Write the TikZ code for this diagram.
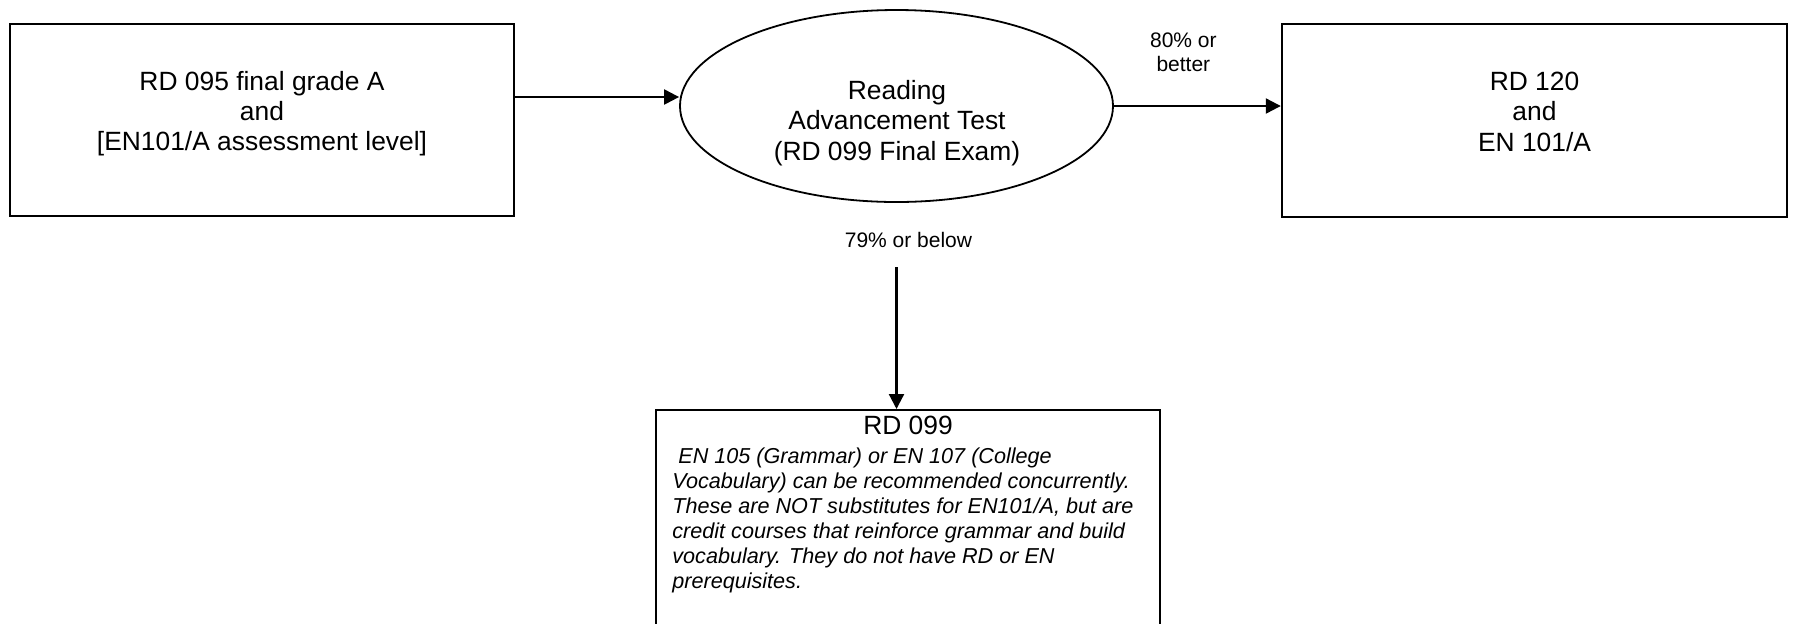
\documentclass[tikz,border=0pt]{standalone}
\usepackage{fontspec}
\setmainfont{Liberation Sans}
\usetikzlibrary{shapes.geometric,arrows.meta,positioning}

\tikzset{
  box/.style={draw, line width=1.2pt, minimum width=252pt, minimum height=96pt, inner sep=0pt, align=center, font=\fontsize{13.2}{15.2}\selectfont, execute at end node={\rule[-9pt]{0pt}{0pt}}},
  oval/.style={draw, ellipse, line width=0.9pt, minimum width=216.5pt, minimum height=96pt, inner sep=0pt},
  lbl/.style={inner sep=0pt, align=center, font=\fontsize{10.5}{12.1}\selectfont},
  note/.style={inner sep=0pt, align=left, font=\fontsize{10.8}{12.5}\selectfont\itshape},
  flow/.style={-{Triangle[length=7.5pt, width=7.5pt]}, line width=1.1pt}
}

\begin{document}
\begin{tikzpicture}[x=0.5pt, y=-0.5pt]
  \fill[white] (0,0) rectangle (1794,623);
  \useasboundingbox (0,0) rectangle (1794,623);
  \clip (0,0) rectangle (1794,623);
  \node[box] (grade) at (262,120) {RD 095 final grade A\\and\\{[EN101/A assessment level]}};
  \node[oval] (rat) at (896.5,106) {};
  \node[align=center, inner sep=0pt, font=\fontsize{13.2}{15.2}\selectfont] (rattext) at (897,123) {Reading\\Advancement Test\\(RD 099 Final Exam)};
  \node[box, minimum width=252.5pt, minimum height=96.5pt] (rdone) at (1534.5,120.5) {RD 120\\and\\EN 101/A};
  \node[draw, line width=1.2pt, anchor=north, minimum width=252pt, minimum height=130pt] (rdnine) at (908,409) {};
  \node[inner sep=0pt, font=\fontsize{13.2}{15.2}\selectfont] (rdninetitle) at (908,425.5) {RD 099};
  \node[note, anchor=north west] (rdninenote) at (672,447) {\ EN 105 (Grammar) or EN 107 (College\\Vocabulary) can be recommended concurrently.\\These are NOT substitutes for EN101/A, but are\\credit courses that reinforce grammar and build\\vocabulary. They do not have RD or EN\\prerequisites.};
  \node[lbl, below=14.5pt of rat, xshift=6pt] (fail) {79\% or below};
  \draw[flow] ([yshift=11.5pt]grade.east) -- ([yshift=4.5pt]rat.west);
  \draw[flow] (rat.east) -- node[lbl, midway, above=16.5pt, xshift=-7pt] (pass) {80\% or\\better} (rat.east -| rdone.west);
  \draw[flow] ([yshift=-9.5pt]rat.south |- fail.south) -- (rat.south |- rdnine.north);
\end{tikzpicture}
\end{document}
